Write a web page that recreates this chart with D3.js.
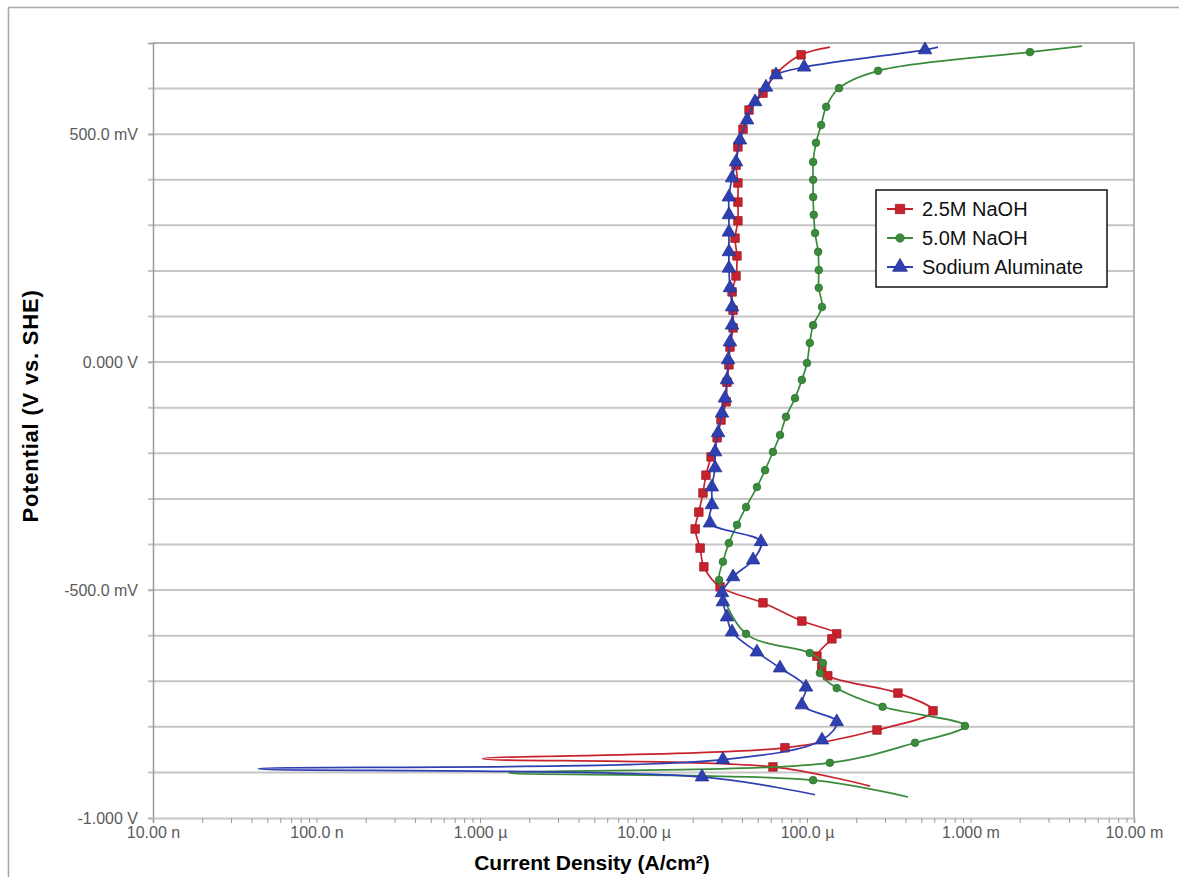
<!DOCTYPE html>
<html>
<head>
<meta charset="utf-8">
<script src="https://cdn.jsdelivr.net/npm/d3@7/dist/d3.min.js"></script>
<style>
body { margin: 0; background: #fff; }
text { font-family: "Liberation Sans", Arial, sans-serif; }
</style>
</head>
<body>
<div class="chart"></div>
<script>
(function(){

//series names, in legend order
var seriesNames = ["2.5M NaOH", "5.0M NaOH", "Sodium Aluminate"];

// [potential V vs SHE, current density A/cm2], read top to bottom
var naoh25 = [
    [0.691, 1.38e-4], [0.674, 9.2e-5], [0.632, 6.46e-5], [0.590, 5.38e-5], [0.553, 4.42e-5],
    [0.511, 4.06e-5], [0.472, 3.78e-5], [0.432, 3.68e-5], [0.393, 3.78e-5], [0.351, 3.78e-5],
    [0.310, 3.78e-5], [0.272, 3.63e-5], [0.233, 3.73e-5], [0.189, 3.68e-5], [0.154, 3.48e-5],
    [0.114, 3.53e-5], [0.075, 3.53e-5], [0.033, 3.38e-5], [-0.006, 3.33e-5], [-0.044, 3.24e-5],
    [-0.087, 3.20e-5], [-0.127, 2.98e-5], [-0.166, 2.82e-5], [-0.208, 2.59e-5], [-0.248, 2.41e-5],
    [-0.287, 2.31e-5], [-0.329, 2.18e-5], [-0.366, 2.07e-5], [-0.408, 2.22e-5], [-0.449, 2.34e-5],
    [-0.493, 2.94e-5], [-0.528, 5.38e-5], [-0.568, 9.3e-5], [-0.596, 1.52e-4], [-0.607, 1.42e-4],
    [-0.645, 1.15e-4], [-0.669, 1.23e-4], [-0.688, 1.34e-4], [-0.726, 3.6e-4], [-0.765, 5.9e-4],
    [-0.807, 2.68e-4], [-0.846, 7.33e-5], [-0.870, 1.04e-6], [-0.888, 6.19e-5], [-0.930, 2.43e-4]
];

var naoh50 = [
    [0.693, 4.81e-3], [0.680, 2.31e-3], [0.639, 2.72e-4], [0.601, 1.57e-4], [0.560, 1.31e-4],
    [0.520, 1.22e-4], [0.481, 1.135e-4], [0.439, 1.09e-4], [0.400, 1.09e-4], [0.362, 1.09e-4],
    [0.323, 1.10e-4], [0.283, 1.12e-4], [0.242, 1.17e-4], [0.202, 1.18e-4], [0.163, 1.18e-4],
    [0.121, 1.235e-4], [0.081, 1.09e-4], [0.042, 1.04e-4], [-0.002, 1.0e-4], [-0.039, 9.3e-5],
    [-0.079, 8.45e-5], [-0.120, 7.44e-5], [-0.160, 6.84e-5], [-0.197, 6.19e-5], [-0.237, 5.54e-5],
    [-0.274, 4.94e-5], [-0.318, 4.24e-5], [-0.357, 3.73e-5], [-0.397, 3.33e-5], [-0.438, 3.06e-5],
    [-0.478, 2.90e-5], [-0.596, 4.24e-5], [-0.638, 1.04e-4], [-0.660, 1.25e-4], [-0.682, 1.20e-4],
    [-0.715, 1.52e-4], [-0.756, 2.9e-4], [-0.798, 9.25e-4], [-0.835, 4.58e-4], [-0.879, 1.38e-4],
    [-0.901, 1.50e-6], [-0.917, 1.09e-4], [-0.954, 4.15e-4]
];

var aluminate = [
    [0.691, 6.33e-4], [0.685, 5.27e-4], [0.647, 9.6e-5], [0.630, 6.46e-5], [0.603, 5.61e-5],
    [0.571, 4.81e-5], [0.531, 4.30e-5], [0.487, 3.89e-5], [0.439, 3.68e-5], [0.404, 3.48e-5],
    [0.362, 3.33e-5], [0.323, 3.33e-5], [0.285, 3.33e-5], [0.242, 3.33e-5], [0.206, 3.33e-5],
    [0.163, 3.38e-5], [0.121, 3.48e-5], [0.081, 3.48e-5], [0.044, 3.38e-5], [0.005, 3.29e-5],
    [-0.039, 3.24e-5], [-0.079, 3.15e-5], [-0.112, 3.02e-5], [-0.155, 2.86e-5], [-0.197, 2.74e-5],
    [-0.232, 2.74e-5], [-0.274, 2.62e-5], [-0.313, 2.62e-5], [-0.353, 2.55e-5], [-0.394, 5.23e-5],
    [-0.434, 4.68e-5], [-0.471, 3.53e-5], [-0.506, 3.02e-5], [-0.526, 3.06e-5], [-0.559, 3.24e-5],
    [-0.592, 3.48e-5], [-0.636, 4.94e-5], [-0.671, 6.84e-5], [-0.713, 9.86e-5], [-0.752, 9.3e-5],
    [-0.789, 1.52e-4], [-0.829, 1.235e-4], [-0.872, 3.06e-5], [-0.892, 4.39e-8], [-0.910, 2.28e-5],
    [-0.949, 1.12e-4]
];

// axis ticks
var yTickValues = [0.5, 0, -0.5, -1.0];
var yTickLabels = ["500.0 mV", "0.000 V", "-500.0 mV", "-1.000 V"];
var xTickValues = [1e-8, 1e-7, 1e-6, 1e-5, 1e-4, 1e-3, 1e-2];
var xTickLabels = ["10.00 n", "100.0 n", "1.000 \u00b5", "10.00 \u00b5", "100.0 \u00b5", "1.000 m", "10.00 m"];

var colors = ["#c8232c", "#3a8c3c", "#2e3fb2"];
var shapes = [d3.symbolSquare, d3.symbolCircle, d3.symbolTriangle];
var shapeSize = [72, 46, 80];

window.onload = setChart();

function setChart(){
    var width = 1179,
        height = 877;
    var left = 153, right = 1134, top = 43, bottom = 818;

    var svg = d3.select(".chart")
        .append("svg")
        .attr("width", width)
        .attr("height", height);

    // outer frame
    svg.append("path")
        .attr("d", "M8.5," + height + "V7.5H" + width)
        .attr("fill", "none")
        .attr("stroke", "#a8a8a8")
        .attr("stroke-width", 1.5);

    var x = d3.scaleLog().domain([1e-8, 1e-2]).range([left, right]);
    var y = d3.scaleLinear().domain([-1.0, 0.7]).range([bottom, top]);

    // horizontal grid every 100 mV
    var gridVals = d3.range(-9, 7).map(function(d){ return d / 10; });
    svg.append("g")
        .selectAll("line")
        .data(gridVals)
        .enter()
        .append("line")
        .attr("x1", left - 5)
        .attr("x2", right)
        .attr("y1", function(d){ return y(d); })
        .attr("y2", function(d){ return y(d); })
        .attr("stroke", "#c6c6c6")
        .attr("stroke-width", 2);

    // plot border
    svg.append("path")
        .attr("d", "M" + left + "," + top + "H" + right + "V" + bottom)
        .attr("fill", "none")
        .attr("stroke", "#b4b4b4")
        .attr("stroke-width", 2);

    // y axis
    var yAxis = d3.axisLeft(y)
        .tickValues(yTickValues)
        .tickSize(5)
        .tickPadding(10)
        .tickFormat(function(d, i){ return yTickLabels[i]; });
    var gy = svg.append("g")
        .attr("transform", "translate(" + left + ",0)")
        .call(yAxis);
    gy.select(".domain").attr("stroke", "#9a9a9a").attr("stroke-width", 1.5);
    gy.selectAll(".tick line").attr("stroke", "#b0b0b0").attr("stroke-width", 1.5);
    gy.selectAll("text")
        .attr("fill", "#5a5a5a")
        .style("font-size", "16px");

    // x axis, minor ticks included
    var allX = [];
    xTickValues.forEach(function(d, i){
        if (i < xTickValues.length - 1) {
            d3.range(1, 10).forEach(function(k){ allX.push(d * k); });
        } else {
            allX.push(d);
        }
    });
    var xAxis = d3.axisBottom(x)
        .tickValues(allX)
        .tickSize(5)
        .tickPadding(4)
        .tickFormat(function(d){
            var i = xTickValues.findIndex(function(v){ return Math.abs(v - d) / v < 1e-6; });
            return i >= 0 ? xTickLabels[i] : "";
        });
    var gx = svg.append("g")
        .attr("transform", "translate(0," + bottom + ")")
        .call(xAxis);
    gx.select(".domain").attr("stroke", "#c6c6c6").attr("stroke-width", 2);
    gx.selectAll(".tick line").attr("stroke", "#9a9a9a").attr("stroke-width", 1);
    gx.selectAll("text")
        .attr("fill", "#5a5a5a")
        .style("font-size", "16px");

    // axis titles
    svg.append("text")
        .attr("x", 592)
        .attr("y", 870)
        .attr("text-anchor", "middle")
        .style("font-size", "21px")
        .style("font-weight", "bold")
        .text("Current Density (A/cm\u00b2)");

    svg.append("text")
        .attr("transform", "translate(38,406) rotate(-90)")
        .attr("text-anchor", "middle")
        .style("font-size", "22px")
        .style("font-weight", "bold")
        .style("letter-spacing", "0.8px")
        .text("Potential (V vs. SHE)");

    // series
    var line = d3.line()
        .x(function(d){ return x(d[1]); })
        .y(function(d){ return y(d[0]); })
        .curve(d3.curveCatmullRom.alpha(0.5));

    [naoh25, naoh50, aluminate].forEach(function(data, s){
        drawSeries(svg, data, s, line, x, y);
    });

    drawLegend(svg);
};

function drawSeries(svg, data, s, line, x, y){
    svg.append("path")
        .datum(data)
        .attr("d", line)
        .attr("fill", "none")
        .attr("stroke", colors[s])
        .attr("stroke-width", 1.7);

    // no marker at the end points or at the spike tip
    var tip = d3.minIndex(data, function(d){ return d[1]; });
    var marked = data.filter(function(d, i){
        return i > 0 && i < data.length - 1 && i !== tip;
    });

    svg.append("g")
        .selectAll("path")
        .data(marked)
        .enter()
        .append("path")
        .attr("transform", function(d){
            return "translate(" + x(d[1]) + "," + y(d[0]) + ")";
        })
        .attr("d", d3.symbol().type(shapes[s]).size(shapeSize[s]))
        .attr("fill", colors[s])
        .attr("stroke", d3.color(colors[s]).darker(0.6))
        .attr("stroke-width", 0.8);
};

function drawLegend(svg){
    var lx = 876, ly = 190;
    var legend = svg.append("g")
        .attr("transform", "translate(" + lx + "," + ly + ")");

    legend.append("rect")
        .attr("width", 231)
        .attr("height", 97)
        .attr("fill", "#fff")
        .attr("stroke", "#111")
        .attr("stroke-width", 1.5);

    seriesNames.forEach(function(name, i){
        var cy = 19 + i * 29;
        legend.append("line")
            .attr("x1", 11).attr("x2", 37)
            .attr("y1", cy).attr("y2", cy)
            .attr("stroke", colors[i])
            .attr("stroke-width", 2);
        legend.append("path")
            .attr("transform", "translate(24," + cy + ")")
            .attr("d", d3.symbol().type(shapes[i]).size(shapeSize[i] * 1.2))
            .attr("fill", colors[i])
            .attr("stroke", d3.color(colors[i]).darker(0.6))
            .attr("stroke-width", 0.8);
        legend.append("text")
            .attr("x", 46)
            .attr("y", cy)
            .attr("dy", "0.35em")
            .style("font-size", "20px")
            .attr("fill", "#111")
            .text(name);
    });
};

})();
</script>
</body>
</html>
